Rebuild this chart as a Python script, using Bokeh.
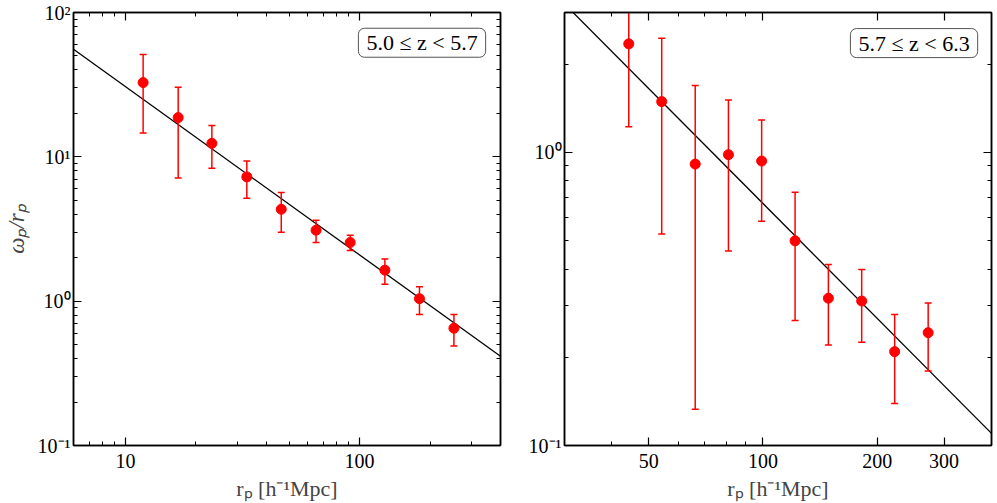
from bokeh.plotting import figure
from bokeh.layouts import row
from bokeh.models import (LogAxis, FixedTicker, Label, ColumnDataSource,
                          PrintfTickFormatter)
from bokeh.embed import file_html
from bokeh.resources import INLINE

# ---------------- data ----------------
# Panel 1: 5.0 <= z < 5.7
rp_1 = [11.9, 16.8, 23.4, 33.0, 46.3, 65.2, 91.2, 128.3, 180.3, 253.0]
wp_1 = [32.7, 18.7, 12.4, 7.26, 4.33, 3.10, 2.55, 1.64, 1.04, 0.649]
wp_1_hi = [51.2, 30.3, 16.5, 9.37, 5.66, 3.64, 2.86, 1.96, 1.26, 0.81]
wp_1_lo = [14.6, 7.14, 8.34, 5.16, 3.00, 2.55, 2.24, 1.31, 0.81, 0.489]
fit_1_x = [6.0, 400.0]
fit_1_y = [55.7, 0.415]
label_1 = "5.0 ≤ z < 5.7"

# Panel 2: 5.7 <= z < 6.3
rp_2 = [44.3, 54.1, 66.3, 81.1, 99.2, 121.5, 148.7, 182.0, 222.3, 272.4]
wp_2 = [2.345, 1.49, 0.912, 0.982, 0.934, 0.499, 0.318, 0.311, 0.209, 0.2426]
wp_2_hi = [3.6, 2.45, 1.69, 1.51, 1.29, 0.731, 0.4146, 0.3986, 0.280, 0.306]
wp_2_lo = [1.223, 0.527, 0.133, 0.461, 0.582, 0.267, 0.220, 0.225, 0.139, 0.1796]
fit_2_x = [30.0, 400.0]
fit_2_y = [3.21, 0.110]
label_2 = "5.7 ≤ z < 6.3"

# ticks
x1_major = [10, 100]
x1_minor = [7, 8, 9, 20, 30, 40, 50, 60, 70, 80, 90, 200, 300, 400]
y1_major = [0.1, 1, 10, 100]
y1_minor = [0.2, 0.3, 0.4, 0.5, 0.6, 0.7, 0.8, 0.9, 2, 3, 4, 5, 6, 7, 8, 9,
            20, 30, 40, 50, 60, 70, 80, 90]
x2_major = [50, 100, 200, 300]
x2_minor = [40, 60, 70, 80, 90]
y2_major = [0.1, 1]
y2_minor = [0.2, 0.3, 0.4, 0.5, 0.6, 0.7, 0.8, 0.9, 2, 3]
y_tick_text = {0.1: "10⁻¹", 1: "10⁰", 10: "10¹", 100: "10²"}

FONT = "Liberation Serif"
RED = "#ff0000"


def style_axis(ax, show_labels):
    ax.major_tick_in = 8
    ax.major_tick_out = 0
    ax.minor_tick_in = 4
    ax.minor_tick_out = 0
    ax.axis_line_color = "black"
    ax.axis_line_width = 1.5
    ax.major_tick_line_color = "black"
    ax.minor_tick_line_color = "black"
    ax.major_tick_line_width = 1.2
    ax.minor_tick_line_width = 1.0
    ax.major_label_text_font = FONT
    if show_labels:
        ax.major_label_text_font_size = "20px"
        ax.major_label_text_color = "black"
    else:
        ax.major_label_text_font_size = "1px"
        ax.major_label_text_alpha = 0.0
        ax.major_label_standoff = 0


def make_panel(rp, wp, hi, lo, fx, fy, xr, yr, xmaj, xmin_, ymaj, ymin_,
               label, lab_x, lab_y, left_border, right_border, ylabel):
    p = figure(x_axis_type="log", y_axis_type="log", x_range=xr, y_range=yr,
               frame_width=427, frame_height=433,
               min_border_left=left_border, min_border_right=right_border,
               min_border_top=12, min_border_bottom=57,
               output_backend="svg", toolbar_location=None,
               background_fill_color="white", border_fill_color="white")
    p.grid.visible = False
    p.outline_line_color = "black"
    p.outline_line_width = 1.5

    xa = p.xaxis[0]
    ya = p.yaxis[0]
    xa.ticker = FixedTicker(ticks=xmaj, minor_ticks=xmin_)
    ya.ticker = FixedTicker(ticks=ymaj, minor_ticks=ymin_)
    xa.formatter = PrintfTickFormatter(format="%d")
    ya.formatter = PrintfTickFormatter(format="%g")
    ya.major_label_overrides = {k: v for k, v in y_tick_text.items() if k in ymaj}
    style_axis(xa, True)
    style_axis(ya, True)
    xa.major_label_standoff = 8
    ya.major_label_standoff = 3

    xa.axis_label = "rₚ [h⁻¹Mpc]"
    xa.axis_label_text_font = FONT
    xa.axis_label_text_font_size = "22px"
    xa.axis_label_text_font_style = "normal"
    xa.axis_label_standoff = 5
    if ylabel:
        ya.axis_label = ylabel
        ya.axis_label_text_font = FONT
        ya.axis_label_text_font_size = "23px"
        ya.axis_label_text_font_style = "italic"
        ya.axis_label_standoff = 6

    top = LogAxis(ticker=FixedTicker(ticks=xmaj, minor_ticks=xmin_),
                  formatter=PrintfTickFormatter(format="%d"))
    style_axis(top, False)
    p.add_layout(top, "above")
    right = LogAxis(ticker=FixedTicker(ticks=ymaj, minor_ticks=ymin_),
                    formatter=PrintfTickFormatter(format="%g"))
    style_axis(right, False)
    p.add_layout(right, "right")

    src = ColumnDataSource(dict(x=rp, y=wp, hi=hi, lo=lo))
    p.line(fx, fy, line_color="black", line_width=1.3)
    p.segment(x0="x", y0="lo", x1="x", y1="hi", source=src,
              line_color=RED, line_width=1.5)
    p.scatter(x="x", y="hi", marker="dash", size=7, line_color=RED,
              line_width=1.5, source=src)
    p.scatter(x="x", y="lo", marker="dash", size=7, line_color=RED,
              line_width=1.5, source=src)
    p.scatter(x="x", y="y", marker="circle", size=10, fill_color=RED,
              line_color=RED, source=src)

    lab = Label(x=lab_x, y=lab_y, text=label, anchor="top_right",
                text_font=FONT, text_font_size="22px", text_color="black",
                padding=(8, 2), border_radius=6,
                border_line_color="#555555", border_line_width=1,
                background_fill_color="white")
    p.add_layout(lab)
    return p


p1 = make_panel(rp_1, wp_1, wp_1_hi, wp_1_lo, fit_1_x, fit_1_y,
                (6, 400), (0.1, 100), x1_major, x1_minor, y1_major, y1_minor,
                label_1, 345.6, 77.8, 73, 2, "ωₚ/rₚ")
p2 = make_panel(rp_2, wp_2, wp_2_hi, wp_2_lo, fit_2_x, fit_2_y,
                (30, 400), (0.1, 3), x2_major, x2_minor, y2_major, y2_minor,
                label_2, 367.8, 2.644, 62, 6, None)

layout = row(p1, p2)

open("out.html", "w").write(file_html(layout, INLINE))
